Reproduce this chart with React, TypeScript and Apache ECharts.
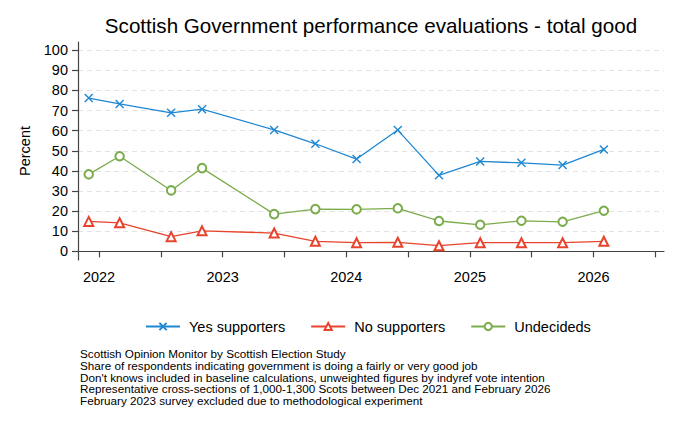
import React, { useEffect, useRef } from "react";
import * as echarts from "echarts";

const surveyMonths = [
  "2021-12", "2022-03", "2022-08", "2022-11", "2023-06", "2023-10", "2024-02",
  "2024-06", "2024-10", "2025-02", "2025-06", "2025-10", "2026-02",
];
const yesSupporters = [76.2, 73.3, 68.9, 70.7, 60.4, 53.5, 45.9, 60.3, 37.8, 44.7, 44.0, 42.9, 50.7];
const noSupporters = [14.9, 14.2, 7.3, 10.2, 9.1, 5.0, 4.3, 4.5, 2.8, 4.3, 4.3, 4.3, 5.0];
const undecideds = [38.3, 47.3, 30.3, 41.4, 18.5, 21.0, 20.9, 21.4, 15.1, 13.2, 15.2, 14.7, 20.2];

const yTicks = [0, 10, 20, 30, 40, 50, 60, 70, 80, 90, 100];
const xTickValues = [2022, 2022.5, 2023, 2023.5, 2024, 2024.5, 2025, 2025.5, 2026, 2026.5];
const xLabelValues = [2022, 2023, 2024, 2025, 2026];

const titleText = "Scottish Government performance evaluations - total good";
const noteLines = [
  "Scottish Opinion Monitor by Scottish Election Study",
  "Share of respondents indicating government is doing a fairly or very good job",
  "Don't knows included in baseline calculations, unweighted figures by indyref vote intention",
  "Representative cross-sections of 1,000-1,300 Scots between Dec 2021 and February 2026",
  "February 2023 survey excluded due to methodological experiment",
];

const FONT = "'Liberation Sans', Arial, Helvetica, sans-serif";

function toYear(m: string): number {
  const [y, mo] = m.split("-").map(Number);
  return y + (mo - 1) / 12;
}

export default function App() {
  const ref = useRef<HTMLDivElement>(null);
  useEffect(() => {
    if (!ref.current) return;
    const chart = echarts.init(ref.current, null, { renderer: "svg" });
    const xs = surveyMonths.map(toYear);
    const mk = (vals: number[]) => vals.map((v, i) => [xs[i], v]);
    const BLUE = "#1f88d2";
    const RED = "#e8432d";
    const GREEN = "#7bac4c";
    chart.setOption({
      animation: false,
      backgroundColor: "#ffffff",
      textStyle: { fontFamily: FONT },
      title: [
        {
          text: titleText,
          left: 371,
          top: 12,
          textAlign: "center",
          padding: 0,
          textStyle: { fontSize: 20.6, fontWeight: "normal", color: "#000", fontFamily: FONT, lineHeight: 26 },
        },
        {
          text: noteLines.join("\n"),
          left: 80,
          top: 348,
          padding: 0,
          textStyle: { fontSize: 11.7, fontWeight: "normal", color: "#000", fontFamily: FONT, lineHeight: 11.7 },
        },
      ],
      legend: {
        left: 145,
        top: 319,
        padding: 0,
        itemWidth: 34,
        itemHeight: 9,
        itemGap: 25,
        textStyle: { fontSize: 14.5, color: "#000", fontFamily: FONT, padding: [0, 0, 0, 4] },
        data: ["Yes supporters", "No supporters", "Undecideds"],
      },
      grid: { left: 78, right: 16, top: 42, bottom: 165, containLabel: false, outerBoundsMode: "none" },
      xAxis: {
        type: "value",
        min: 2021.83,
        max: 2026.57,
        axisLine: { show: true, lineStyle: { color: "#444", width: 1.2 } },
        axisTick: { show: true, length: 6, lineStyle: { color: "#444", width: 1.2 }, customValues: xTickValues },
        axisLabel: {
          customValues: xLabelValues,
          formatter: (v: number) => String(Math.round(v)),
          fontSize: 14.5,
          color: "#000",
          margin: 9,
          fontFamily: FONT,
        },
        splitLine: { show: false },
      },
      yAxis: {
        type: "value",
        min: -4.3,
        max: 104.1,
        name: "Percent",
        nameLocation: "middle",
        nameGap: 46,
        nameTextStyle: { fontSize: 14.5, color: "#000", fontFamily: FONT },
        axisLine: { show: true, lineStyle: { color: "#444", width: 1.2 } },
        axisTick: { show: true, length: 6, lineStyle: { color: "#444", width: 1.2 }, customValues: yTicks },
        axisLabel: {
          customValues: yTicks,
          fontSize: 14.5,
          color: "#000",
          margin: 10,
          fontFamily: FONT,
        },
        splitLine: { show: true, lineStyle: { color: "#e3e3e3", type: [5, 4], width: 1 } },
      },
      series: [
        {
          name: "Yes supporters",
          type: "line",
          data: mk(yesSupporters),
          symbol: "path://M0,0L10,10M10,0L0,10",
          symbolSize: 8,
          lineStyle: { color: BLUE, width: 1.3 },
          itemStyle: { color: BLUE, borderColor: BLUE, borderWidth: 1.4 },
        },
        {
          name: "No supporters",
          type: "line",
          data: mk(noSupporters),
          symbol: "emptyTriangle",
          symbolSize: 9,
          lineStyle: { color: RED, width: 1.3 },
          itemStyle: { color: RED, borderColor: RED, borderWidth: 1.4 },
        },
        {
          name: "Undecideds",
          type: "line",
          data: mk(undecideds),
          symbol: "emptyCircle",
          symbolSize: 8.5,
          lineStyle: { color: GREEN, width: 1.3 },
          itemStyle: { color: GREEN, borderColor: GREEN, borderWidth: 1.2 },
        },
      ],
    });
    return () => chart.dispose();
  }, []);
  return (
    <div
      ref={ref}
      style={{ position: "absolute", left: 0, top: 0, width: 680, height: 425, background: "#fff" }}
    />
  );
}
